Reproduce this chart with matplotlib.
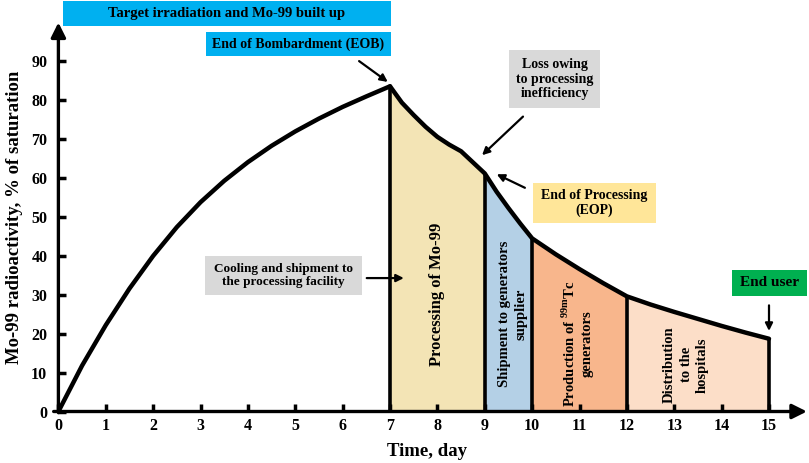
import numpy as np
import matplotlib
matplotlib.use('Agg')
import matplotlib.pyplot as plt
from matplotlib.patches import Rectangle

plt.rcParams['font.family'] = ['Liberation Serif', 'DejaVu Serif']
plt.rcParams['font.weight'] = 'bold'

# values
build_t = [0, 0.5, 1, 1.5, 2, 2.5, 3, 3.5, 4, 4.5, 5, 5.5, 6, 6.5, 7]
build_y = [0, 11.8, 22.2, 31.6, 40.0, 47.4, 53.8, 59.3, 64.1, 68.3, 72.0, 75.3, 78.3, 81.0, 83.6]

decay_t = [7, 7.25, 7.5, 7.75, 8, 8.25, 8.5, 9, 9.25, 9.5, 9.75, 10,
           10.5, 11, 11.5, 12, 12.5, 13, 13.5, 14, 14.5, 15]
decay_y = [83.6, 79.4, 76.2, 73.2, 70.6, 68.6, 66.9, 61.2, 56.5, 52.3, 48.3, 44.5,
           40.4, 36.6, 33.0, 29.6, 27.5, 25.6, 23.8, 22.0, 20.3, 18.7]

stage_edges = [7, 9, 10, 12, 15]
stage_colors = ['#f3e4b5', '#b4d0e6', '#f8b68c', '#fcdec8']
stage_labels = ['Processing of Mo-99',
                'Shipment to generators\nsupplier',
                'Production of $^{\\mathregular{99m}}$Tc\ngenerators',
                'Distribution\nto the\nhospitals']
stage_label_pos = [(8.0, 30, 12), (9.6, 25, 10.5), (10.95, 17.5, 10.5), (13.25, 12, 10.5)]

x_ticks = list(range(0, 16))
y_ticks = list(range(0, 100, 10))

W, H = 809, 463
fig = plt.figure(figsize=(W / 100, H / 100), dpi=100)
ax = fig.add_axes([58.4 / W, 51.5 / H, 748.5 / W, 389 / H])
ax.set_xlim(0, 15.8)
ax.set_ylim(0, 100)
for s in ax.spines.values():
    s.set_visible(False)

dt = np.array(decay_t)
dy = np.array(decay_y)
for i in range(4):
    a, b = stage_edges[i], stage_edges[i + 1]
    m = (dt >= a) & (dt <= b)
    ax.fill_between(dt[m], 0, dy[m], color=stage_colors[i], lw=0, zorder=1)
    lx, ly, fs = stage_label_pos[i]
    ax.text(lx, ly, stage_labels[i], rotation=90, ha='center', va='center',
            fontsize=fs, fontweight='bold', linespacing=1.35, zorder=3)

edge_tops = [decay_y[decay_t.index(e)] for e in stage_edges]
ax.vlines(stage_edges, 0, edge_tops, colors='k', lw=2.6, zorder=4)

ax.plot(build_t, build_y, color='k', lw=3.2, solid_joinstyle='round', solid_capstyle='round', zorder=5)
ax.plot(decay_t, decay_y, color='k', lw=3.2, solid_joinstyle='round', solid_capstyle='round', zorder=5)

# axes with arrow heads
arr = dict(arrowstyle='-|>', lw=2.4, color='k', mutation_scale=22, shrinkA=0, shrinkB=0)
ax.annotate('', xy=(15.8, 0), xytext=(-0.1, 0), arrowprops=arr, annotation_clip=False, zorder=6)
ax.annotate('', xy=(0, 100), xytext=(0, -0.3), arrowprops=arr, annotation_clip=False, zorder=6)

ax.set_xticks(x_ticks)
ax.set_yticks(y_ticks)
ax.tick_params(direction='in', length=6, width=2.5, labelsize=11.5, pad=5)
ax.tick_params(axis='y', pad=8)
for lab in ax.get_xticklabels() + ax.get_yticklabels():
    lab.set_fontweight('bold')

ax.set_ylabel('Mo-99 radioactivity, % of saturation', fontsize=13.5, fontweight='bold', labelpad=6)
fig.text(387 / W, 1 - 452 / H, 'Time, day', fontsize=13.5, fontweight='bold', ha='left', va='center')


def pixel_box(x0, y0, x1, y1, color, text, size):
    # box given in picture pixels from the top-left corner
    fig.patches.append(Rectangle((x0 / W, 1 - y1 / H), (x1 - x0) / W, (y1 - y0) / H,
                                 transform=fig.transFigure, fc=color, ec='none', zorder=8))
    fig.text((x0 + x1) / 2 / W, 1 - (y0 + y1) / 2 / H, text, fontsize=size, fontweight='bold',
             ha='center', va='center', linespacing=1.15, zorder=9)


pixel_box(63, 1, 391, 26, '#00b0f0', 'Target irradiation and Mo-99 built up', 10.5)
pixel_box(206, 32, 391, 56, '#00b0f0', 'End of Bombardment (EOB)', 10)
pixel_box(509, 50, 600, 108, '#d9d9d9', 'Loss owing\nto processing\ninefficiency', 10)
pixel_box(533, 183, 656, 223, '#ffe699', 'End of Processing\n(EOP)', 10)
pixel_box(205, 256, 362, 295, '#d9d9d9', 'Cooling and shipment to\nthe processing facility', 9.5)
pixel_box(732, 270, 807, 296, '#00b050', 'End user', 11)

small = dict(arrowstyle='-|>', lw=1.6, color='k', mutation_scale=11)
ax.annotate('', xy=(7.0, 84.3), xytext=(6.3, 90.5), arrowprops=small, zorder=7)
ax.annotate('', xy=(8.9, 65.4), xytext=(9.85, 76.3), arrowprops=small, zorder=7)
ax.annotate('', xy=(9.2, 61.3), xytext=(9.9, 57.2), arrowprops=small, zorder=7)
ax.annotate('', xy=(7.35, 34.3), xytext=(6.45, 34.3), arrowprops=small, zorder=7)
ax.annotate('', xy=(15.0, 20.0), xytext=(15.0, 28.0), arrowprops=small, zorder=7)

fig.savefig('out.png', dpi=100)
